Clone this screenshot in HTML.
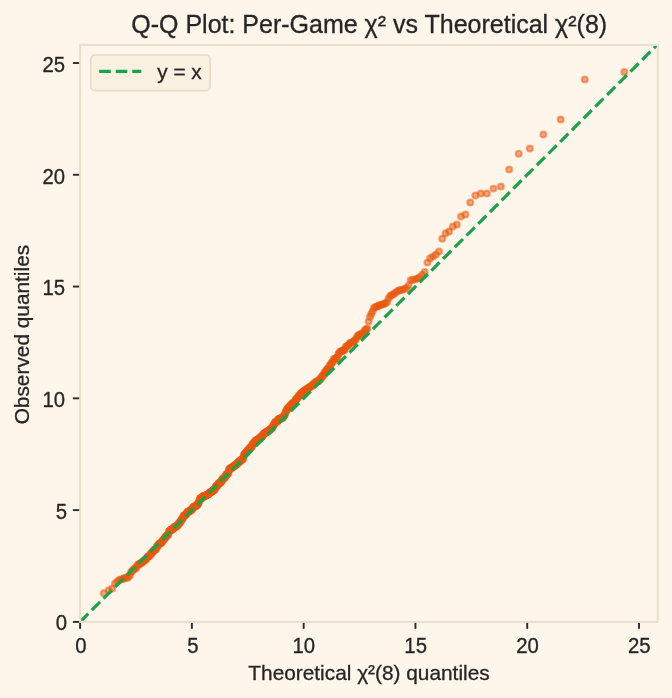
<!DOCTYPE html>
<html lang="en"><head><meta charset="utf-8"><title>Q-Q Plot</title>
<style>html,body{margin:0;padding:0;background:#fef6ea}body{width:672px;height:698px;overflow:hidden}svg{display:block}text{font-family:"Liberation Sans",sans-serif;fill:#262626;stroke:#262626;stroke-width:0.3px}</style></head><body>
<svg width="672" height="698" viewBox="0 0 672 698">
<rect width="672" height="698" fill="#fef6ea"/>
<defs><clipPath id="ax"><rect x="80.1" y="44.9" width="577.7" height="577"/></clipPath></defs>
<g clip-path="url(#ax)"><g fill="#ea580c" fill-opacity="0.5" stroke="#ea580c" stroke-opacity="0.5" stroke-width="2.08">
<circle cx="103.78" cy="593.31" r="2.95"/>
<circle cx="108.78" cy="590.35" r="2.95"/>
<circle cx="112.26" cy="588.61" r="2.95"/>
<circle cx="115.04" cy="583.37" r="2.95"/>
<circle cx="117.39" cy="581.45" r="2.95"/>
<circle cx="119.45" cy="579.65" r="2.95"/>
<circle cx="121.3" cy="579.48" r="2.95"/>
<circle cx="122.99" cy="579.02" r="2.95"/>
<circle cx="124.55" cy="577.83" r="2.95"/>
<circle cx="126.01" cy="577.76" r="2.95"/>
<circle cx="127.38" cy="577.66" r="2.95"/>
<circle cx="128.68" cy="576.86" r="2.95"/>
<circle cx="129.91" cy="575.21" r="2.95"/>
<circle cx="131.08" cy="572.05" r="2.95"/>
<circle cx="132.21" cy="571.25" r="2.95"/>
<circle cx="133.29" cy="569.84" r="2.95"/>
<circle cx="134.34" cy="569.04" r="2.95"/>
<circle cx="135.35" cy="568.1" r="2.95"/>
<circle cx="136.32" cy="567.96" r="2.95"/>
<circle cx="137.27" cy="565.6" r="2.95"/>
<circle cx="138.19" cy="564.78" r="2.95"/>
<circle cx="139.09" cy="564" r="2.95"/>
<circle cx="139.96" cy="563.98" r="2.95"/>
<circle cx="140.82" cy="563.27" r="2.95"/>
<circle cx="141.65" cy="562.59" r="2.95"/>
<circle cx="142.46" cy="561.92" r="2.95"/>
<circle cx="143.26" cy="561.57" r="2.95"/>
<circle cx="144.05" cy="560.75" r="2.95"/>
<circle cx="144.81" cy="559.82" r="2.95"/>
<circle cx="145.57" cy="559.44" r="2.95"/>
<circle cx="146.31" cy="559.24" r="2.95"/>
<circle cx="147.03" cy="557.56" r="2.95"/>
<circle cx="147.75" cy="556.9" r="2.95"/>
<circle cx="148.45" cy="556.18" r="2.95"/>
<circle cx="149.15" cy="556.08" r="2.95"/>
<circle cx="149.83" cy="555.85" r="2.95"/>
<circle cx="150.5" cy="553.97" r="2.95"/>
<circle cx="151.17" cy="553.31" r="2.95"/>
<circle cx="151.82" cy="553.28" r="2.95"/>
<circle cx="152.47" cy="552.11" r="2.95"/>
<circle cx="153.11" cy="551.85" r="2.95"/>
<circle cx="153.74" cy="550.3" r="2.95"/>
<circle cx="154.37" cy="549.87" r="2.95"/>
<circle cx="154.98" cy="549.37" r="2.95"/>
<circle cx="155.59" cy="549.15" r="2.95"/>
<circle cx="156.2" cy="549.14" r="2.95"/>
<circle cx="156.8" cy="546.46" r="2.95"/>
<circle cx="157.39" cy="546.23" r="2.95"/>
<circle cx="157.97" cy="545.23" r="2.95"/>
<circle cx="158.55" cy="545.14" r="2.95"/>
<circle cx="159.13" cy="543.58" r="2.95"/>
<circle cx="159.7" cy="543.58" r="2.95"/>
<circle cx="160.26" cy="543.1" r="2.95"/>
<circle cx="160.82" cy="543.05" r="2.95"/>
<circle cx="161.38" cy="542.95" r="2.95"/>
<circle cx="161.93" cy="542.08" r="2.95"/>
<circle cx="162.48" cy="540.65" r="2.95"/>
<circle cx="163.02" cy="540.29" r="2.95"/>
<circle cx="163.56" cy="539.51" r="2.95"/>
<circle cx="164.09" cy="538.94" r="2.95"/>
<circle cx="164.62" cy="538.69" r="2.95"/>
<circle cx="165.15" cy="537.52" r="2.95"/>
<circle cx="165.67" cy="536.57" r="2.95"/>
<circle cx="166.19" cy="536.39" r="2.95"/>
<circle cx="166.71" cy="536.02" r="2.95"/>
<circle cx="167.22" cy="535.44" r="2.95"/>
<circle cx="167.73" cy="534.86" r="2.95"/>
<circle cx="168.23" cy="534.81" r="2.95"/>
<circle cx="168.74" cy="531.73" r="2.95"/>
<circle cx="169.24" cy="531.73" r="2.95"/>
<circle cx="169.74" cy="530.92" r="2.95"/>
<circle cx="170.23" cy="530.18" r="2.95"/>
<circle cx="170.72" cy="530.02" r="2.95"/>
<circle cx="171.21" cy="529.63" r="2.95"/>
<circle cx="171.7" cy="529.42" r="2.95"/>
<circle cx="172.18" cy="529.42" r="2.95"/>
<circle cx="172.67" cy="529.16" r="2.95"/>
<circle cx="173.15" cy="528.79" r="2.95"/>
<circle cx="173.62" cy="528.44" r="2.95"/>
<circle cx="174.1" cy="527.06" r="2.95"/>
<circle cx="174.57" cy="527.01" r="2.95"/>
<circle cx="175.04" cy="526.95" r="2.95"/>
<circle cx="175.51" cy="526.78" r="2.95"/>
<circle cx="175.98" cy="526.71" r="2.95"/>
<circle cx="176.44" cy="526.54" r="2.95"/>
<circle cx="176.9" cy="525.7" r="2.95"/>
<circle cx="177.37" cy="525.3" r="2.95"/>
<circle cx="177.82" cy="525.12" r="2.95"/>
<circle cx="178.28" cy="524.89" r="2.95"/>
<circle cx="178.74" cy="523.15" r="2.95"/>
<circle cx="179.19" cy="522.99" r="2.95"/>
<circle cx="179.64" cy="522.66" r="2.95"/>
<circle cx="180.09" cy="522.11" r="2.95"/>
<circle cx="180.54" cy="521.74" r="2.95"/>
<circle cx="180.99" cy="520.83" r="2.95"/>
<circle cx="181.44" cy="519.59" r="2.95"/>
<circle cx="181.88" cy="519.41" r="2.95"/>
<circle cx="182.32" cy="518.96" r="2.95"/>
<circle cx="182.77" cy="517.94" r="2.95"/>
<circle cx="183.21" cy="517.44" r="2.95"/>
<circle cx="183.65" cy="515.81" r="2.95"/>
<circle cx="184.08" cy="515.73" r="2.95"/>
<circle cx="184.52" cy="515.33" r="2.95"/>
<circle cx="184.95" cy="515.23" r="2.95"/>
<circle cx="185.39" cy="514.92" r="2.95"/>
<circle cx="185.82" cy="514.78" r="2.95"/>
<circle cx="186.25" cy="513.73" r="2.95"/>
<circle cx="186.68" cy="513.47" r="2.95"/>
<circle cx="187.11" cy="512.7" r="2.95"/>
<circle cx="187.54" cy="512.22" r="2.95"/>
<circle cx="187.97" cy="511.89" r="2.95"/>
<circle cx="188.39" cy="511.54" r="2.95"/>
<circle cx="188.82" cy="511.31" r="2.95"/>
<circle cx="189.24" cy="511.18" r="2.95"/>
<circle cx="189.67" cy="511.08" r="2.95"/>
<circle cx="190.09" cy="511.04" r="2.95"/>
<circle cx="190.51" cy="510.15" r="2.95"/>
<circle cx="190.93" cy="509.91" r="2.95"/>
<circle cx="191.35" cy="509.79" r="2.95"/>
<circle cx="191.77" cy="509.28" r="2.95"/>
<circle cx="192.19" cy="509.07" r="2.95"/>
<circle cx="192.61" cy="508.62" r="2.95"/>
<circle cx="193.02" cy="507.39" r="2.95"/>
<circle cx="193.44" cy="507.28" r="2.95"/>
<circle cx="193.86" cy="506.84" r="2.95"/>
<circle cx="194.27" cy="506.79" r="2.95"/>
<circle cx="194.68" cy="506.59" r="2.95"/>
<circle cx="195.1" cy="506.27" r="2.95"/>
<circle cx="195.51" cy="506.14" r="2.95"/>
<circle cx="195.92" cy="506.13" r="2.95"/>
<circle cx="196.33" cy="505.97" r="2.95"/>
<circle cx="196.74" cy="505.14" r="2.95"/>
<circle cx="197.15" cy="504.52" r="2.95"/>
<circle cx="197.56" cy="504.26" r="2.95"/>
<circle cx="197.97" cy="504.16" r="2.95"/>
<circle cx="198.38" cy="503.12" r="2.95"/>
<circle cx="198.79" cy="502.48" r="2.95"/>
<circle cx="199.2" cy="500.62" r="2.95"/>
<circle cx="199.6" cy="500.4" r="2.95"/>
<circle cx="200.01" cy="498.38" r="2.95"/>
<circle cx="200.41" cy="498.33" r="2.95"/>
<circle cx="200.82" cy="498.29" r="2.95"/>
<circle cx="201.23" cy="498.27" r="2.95"/>
<circle cx="201.63" cy="498.22" r="2.95"/>
<circle cx="202.03" cy="497.81" r="2.95"/>
<circle cx="202.44" cy="497.75" r="2.95"/>
<circle cx="202.84" cy="496.33" r="2.95"/>
<circle cx="203.24" cy="496.3" r="2.95"/>
<circle cx="203.65" cy="496.21" r="2.95"/>
<circle cx="204.05" cy="496.18" r="2.95"/>
<circle cx="204.45" cy="496.04" r="2.95"/>
<circle cx="204.85" cy="496.03" r="2.95"/>
<circle cx="205.26" cy="495.94" r="2.95"/>
<circle cx="205.66" cy="495.46" r="2.95"/>
<circle cx="206.06" cy="495.27" r="2.95"/>
<circle cx="206.46" cy="495.21" r="2.95"/>
<circle cx="206.86" cy="494.94" r="2.95"/>
<circle cx="207.26" cy="494.73" r="2.95"/>
<circle cx="207.66" cy="494.67" r="2.95"/>
<circle cx="208.06" cy="494.14" r="2.95"/>
<circle cx="208.46" cy="494.12" r="2.95"/>
<circle cx="208.86" cy="493.62" r="2.95"/>
<circle cx="209.26" cy="493.01" r="2.95"/>
<circle cx="209.66" cy="492.71" r="2.95"/>
<circle cx="210.06" cy="492.6" r="2.95"/>
<circle cx="210.46" cy="491.99" r="2.95"/>
<circle cx="210.86" cy="491.97" r="2.95"/>
<circle cx="211.25" cy="491.89" r="2.95"/>
<circle cx="211.65" cy="491.66" r="2.95"/>
<circle cx="212.05" cy="491.49" r="2.95"/>
<circle cx="212.45" cy="491.35" r="2.95"/>
<circle cx="212.85" cy="490.48" r="2.95"/>
<circle cx="213.25" cy="490.35" r="2.95"/>
<circle cx="213.65" cy="490.31" r="2.95"/>
<circle cx="214.04" cy="490.2" r="2.95"/>
<circle cx="214.44" cy="489.31" r="2.95"/>
<circle cx="214.84" cy="489.22" r="2.95"/>
<circle cx="215.24" cy="488.33" r="2.95"/>
<circle cx="215.64" cy="486.65" r="2.95"/>
<circle cx="216.04" cy="486.15" r="2.95"/>
<circle cx="216.43" cy="486.1" r="2.95"/>
<circle cx="216.83" cy="485.93" r="2.95"/>
<circle cx="217.23" cy="485.67" r="2.95"/>
<circle cx="217.63" cy="485.24" r="2.95"/>
<circle cx="218.03" cy="484.94" r="2.95"/>
<circle cx="218.43" cy="483.82" r="2.95"/>
<circle cx="218.83" cy="483.26" r="2.95"/>
<circle cx="219.23" cy="483.11" r="2.95"/>
<circle cx="219.62" cy="483.09" r="2.95"/>
<circle cx="220.02" cy="482.93" r="2.95"/>
<circle cx="220.42" cy="482.77" r="2.95"/>
<circle cx="220.82" cy="481.89" r="2.95"/>
<circle cx="221.22" cy="481.67" r="2.95"/>
<circle cx="221.62" cy="480.53" r="2.95"/>
<circle cx="222.02" cy="480.1" r="2.95"/>
<circle cx="222.42" cy="479.55" r="2.95"/>
<circle cx="222.82" cy="478.8" r="2.95"/>
<circle cx="223.22" cy="478.79" r="2.95"/>
<circle cx="223.62" cy="478.36" r="2.95"/>
<circle cx="224.02" cy="478.29" r="2.95"/>
<circle cx="224.43" cy="477.87" r="2.95"/>
<circle cx="224.83" cy="477.12" r="2.95"/>
<circle cx="225.23" cy="476.63" r="2.95"/>
<circle cx="225.63" cy="476.34" r="2.95"/>
<circle cx="226.03" cy="475.1" r="2.95"/>
<circle cx="226.44" cy="474.59" r="2.95"/>
<circle cx="226.84" cy="474.38" r="2.95"/>
<circle cx="227.24" cy="473.98" r="2.95"/>
<circle cx="227.64" cy="473.43" r="2.95"/>
<circle cx="228.05" cy="473.35" r="2.95"/>
<circle cx="228.45" cy="472.52" r="2.95"/>
<circle cx="228.86" cy="470.05" r="2.95"/>
<circle cx="229.26" cy="469.63" r="2.95"/>
<circle cx="229.67" cy="469.6" r="2.95"/>
<circle cx="230.07" cy="468.36" r="2.95"/>
<circle cx="230.48" cy="468.16" r="2.95"/>
<circle cx="230.88" cy="468.09" r="2.95"/>
<circle cx="231.29" cy="467.97" r="2.95"/>
<circle cx="231.7" cy="467.95" r="2.95"/>
<circle cx="232.11" cy="467.54" r="2.95"/>
<circle cx="232.51" cy="467.21" r="2.95"/>
<circle cx="232.92" cy="467.09" r="2.95"/>
<circle cx="233.33" cy="466.5" r="2.95"/>
<circle cx="233.74" cy="466.16" r="2.95"/>
<circle cx="234.15" cy="466.01" r="2.95"/>
<circle cx="234.56" cy="465.71" r="2.95"/>
<circle cx="234.97" cy="465.14" r="2.95"/>
<circle cx="235.38" cy="465" r="2.95"/>
<circle cx="235.79" cy="464.75" r="2.95"/>
<circle cx="236.21" cy="464.7" r="2.95"/>
<circle cx="236.62" cy="464.61" r="2.95"/>
<circle cx="237.03" cy="463.45" r="2.95"/>
<circle cx="237.44" cy="463.22" r="2.95"/>
<circle cx="237.86" cy="463.04" r="2.95"/>
<circle cx="238.27" cy="462.36" r="2.95"/>
<circle cx="238.69" cy="462.33" r="2.95"/>
<circle cx="239.11" cy="461.83" r="2.95"/>
<circle cx="239.52" cy="461.22" r="2.95"/>
<circle cx="239.94" cy="461.15" r="2.95"/>
<circle cx="240.36" cy="460.8" r="2.95"/>
<circle cx="240.78" cy="460.32" r="2.95"/>
<circle cx="241.2" cy="459.78" r="2.95"/>
<circle cx="241.61" cy="459.52" r="2.95"/>
<circle cx="242.04" cy="459.5" r="2.95"/>
<circle cx="242.46" cy="459.47" r="2.95"/>
<circle cx="242.88" cy="458.62" r="2.95"/>
<circle cx="243.3" cy="458.2" r="2.95"/>
<circle cx="243.72" cy="455.56" r="2.95"/>
<circle cx="244.15" cy="455.01" r="2.95"/>
<circle cx="244.57" cy="453.99" r="2.95"/>
<circle cx="245" cy="453.97" r="2.95"/>
<circle cx="245.42" cy="453.2" r="2.95"/>
<circle cx="245.85" cy="452.95" r="2.95"/>
<circle cx="246.28" cy="452.52" r="2.95"/>
<circle cx="246.71" cy="452.44" r="2.95"/>
<circle cx="247.14" cy="450.94" r="2.95"/>
<circle cx="247.57" cy="450.56" r="2.95"/>
<circle cx="248" cy="450.25" r="2.95"/>
<circle cx="248.43" cy="449.94" r="2.95"/>
<circle cx="248.86" cy="449.93" r="2.95"/>
<circle cx="249.29" cy="448.51" r="2.95"/>
<circle cx="249.73" cy="448.21" r="2.95"/>
<circle cx="250.16" cy="448.02" r="2.95"/>
<circle cx="250.6" cy="447.84" r="2.95"/>
<circle cx="251.04" cy="446.98" r="2.95"/>
<circle cx="251.47" cy="446.68" r="2.95"/>
<circle cx="251.91" cy="446.53" r="2.95"/>
<circle cx="252.35" cy="444.51" r="2.95"/>
<circle cx="252.79" cy="444.16" r="2.95"/>
<circle cx="253.23" cy="444.04" r="2.95"/>
<circle cx="253.68" cy="443.27" r="2.95"/>
<circle cx="254.12" cy="442.44" r="2.95"/>
<circle cx="254.57" cy="442.15" r="2.95"/>
<circle cx="255.01" cy="441.99" r="2.95"/>
<circle cx="255.46" cy="440.81" r="2.95"/>
<circle cx="255.91" cy="440.74" r="2.95"/>
<circle cx="256.35" cy="440.63" r="2.95"/>
<circle cx="256.8" cy="439.91" r="2.95"/>
<circle cx="257.25" cy="439.81" r="2.95"/>
<circle cx="257.71" cy="439.73" r="2.95"/>
<circle cx="258.16" cy="439.21" r="2.95"/>
<circle cx="258.61" cy="439.03" r="2.95"/>
<circle cx="259.07" cy="438.8" r="2.95"/>
<circle cx="259.53" cy="438.56" r="2.95"/>
<circle cx="259.98" cy="437.71" r="2.95"/>
<circle cx="260.44" cy="437.65" r="2.95"/>
<circle cx="260.9" cy="436.72" r="2.95"/>
<circle cx="261.36" cy="436.59" r="2.95"/>
<circle cx="261.82" cy="436.42" r="2.95"/>
<circle cx="262.29" cy="436.4" r="2.95"/>
<circle cx="262.75" cy="435.42" r="2.95"/>
<circle cx="263.22" cy="434.52" r="2.95"/>
<circle cx="263.69" cy="433.68" r="2.95"/>
<circle cx="264.16" cy="433.56" r="2.95"/>
<circle cx="264.63" cy="433.49" r="2.95"/>
<circle cx="265.1" cy="432.84" r="2.95"/>
<circle cx="265.57" cy="432.65" r="2.95"/>
<circle cx="266.04" cy="432.04" r="2.95"/>
<circle cx="266.52" cy="431.86" r="2.95"/>
<circle cx="267" cy="431.66" r="2.95"/>
<circle cx="267.48" cy="431.65" r="2.95"/>
<circle cx="267.96" cy="430.88" r="2.95"/>
<circle cx="268.44" cy="430.7" r="2.95"/>
<circle cx="268.92" cy="430.65" r="2.95"/>
<circle cx="269.4" cy="430.06" r="2.95"/>
<circle cx="269.89" cy="429.73" r="2.95"/>
<circle cx="270.38" cy="429.53" r="2.95"/>
<circle cx="270.87" cy="428.6" r="2.95"/>
<circle cx="271.36" cy="428.4" r="2.95"/>
<circle cx="271.85" cy="427.93" r="2.95"/>
<circle cx="272.34" cy="427.76" r="2.95"/>
<circle cx="272.84" cy="426.97" r="2.95"/>
<circle cx="273.34" cy="425.37" r="2.95"/>
<circle cx="273.83" cy="424.5" r="2.95"/>
<circle cx="274.34" cy="424.19" r="2.95"/>
<circle cx="274.84" cy="422.72" r="2.95"/>
<circle cx="275.34" cy="422.1" r="2.95"/>
<circle cx="275.85" cy="421.98" r="2.95"/>
<circle cx="276.35" cy="421.84" r="2.95"/>
<circle cx="276.86" cy="421.8" r="2.95"/>
<circle cx="277.38" cy="421.42" r="2.95"/>
<circle cx="277.89" cy="419.75" r="2.95"/>
<circle cx="278.4" cy="419.35" r="2.95"/>
<circle cx="278.92" cy="419.34" r="2.95"/>
<circle cx="279.44" cy="419.14" r="2.95"/>
<circle cx="279.96" cy="418.59" r="2.95"/>
<circle cx="280.48" cy="418.44" r="2.95"/>
<circle cx="281.01" cy="418.43" r="2.95"/>
<circle cx="281.53" cy="418.2" r="2.95"/>
<circle cx="282.06" cy="417.96" r="2.95"/>
<circle cx="282.59" cy="417.83" r="2.95"/>
<circle cx="283.13" cy="417.6" r="2.95"/>
<circle cx="283.66" cy="416.08" r="2.95"/>
<circle cx="284.2" cy="415.19" r="2.95"/>
<circle cx="284.74" cy="414.73" r="2.95"/>
<circle cx="285.28" cy="413.24" r="2.95"/>
<circle cx="285.83" cy="411.6" r="2.95"/>
<circle cx="286.37" cy="410.74" r="2.95"/>
<circle cx="286.92" cy="409.34" r="2.95"/>
<circle cx="287.47" cy="408.79" r="2.95"/>
<circle cx="288.03" cy="408.46" r="2.95"/>
<circle cx="288.58" cy="407.43" r="2.95"/>
<circle cx="289.14" cy="407.33" r="2.95"/>
<circle cx="289.7" cy="406.26" r="2.95"/>
<circle cx="290.27" cy="406.08" r="2.95"/>
<circle cx="290.83" cy="405.14" r="2.95"/>
<circle cx="291.4" cy="404.61" r="2.95"/>
<circle cx="291.97" cy="404.3" r="2.95"/>
<circle cx="292.55" cy="403.24" r="2.95"/>
<circle cx="293.12" cy="402.89" r="2.95"/>
<circle cx="293.7" cy="402.52" r="2.95"/>
<circle cx="294.29" cy="402.42" r="2.95"/>
<circle cx="294.87" cy="401.88" r="2.95"/>
<circle cx="295.46" cy="400.42" r="2.95"/>
<circle cx="296.05" cy="399.09" r="2.95"/>
<circle cx="296.64" cy="399.04" r="2.95"/>
<circle cx="297.24" cy="398.23" r="2.95"/>
<circle cx="297.84" cy="397.6" r="2.95"/>
<circle cx="298.44" cy="396.71" r="2.95"/>
<circle cx="299.05" cy="395.59" r="2.95"/>
<circle cx="299.66" cy="395.08" r="2.95"/>
<circle cx="300.27" cy="394.67" r="2.95"/>
<circle cx="300.89" cy="393.76" r="2.95"/>
<circle cx="301.51" cy="393.1" r="2.95"/>
<circle cx="302.13" cy="392.83" r="2.95"/>
<circle cx="302.76" cy="391.97" r="2.95"/>
<circle cx="303.39" cy="391.69" r="2.95"/>
<circle cx="304.02" cy="390.86" r="2.95"/>
<circle cx="304.66" cy="390.42" r="2.95"/>
<circle cx="305.3" cy="390.17" r="2.95"/>
<circle cx="305.94" cy="389.87" r="2.95"/>
<circle cx="306.59" cy="389.87" r="2.95"/>
<circle cx="307.24" cy="388.49" r="2.95"/>
<circle cx="307.9" cy="388.18" r="2.95"/>
<circle cx="308.56" cy="387.98" r="2.95"/>
<circle cx="309.22" cy="387.65" r="2.95"/>
<circle cx="309.89" cy="386.98" r="2.95"/>
<circle cx="310.56" cy="386.58" r="2.95"/>
<circle cx="311.23" cy="386.37" r="2.95"/>
<circle cx="311.92" cy="385.78" r="2.95"/>
<circle cx="312.6" cy="385.28" r="2.95"/>
<circle cx="313.29" cy="384" r="2.95"/>
<circle cx="313.98" cy="383.94" r="2.95"/>
<circle cx="314.68" cy="383.23" r="2.95"/>
<circle cx="315.38" cy="382.6" r="2.95"/>
<circle cx="316.09" cy="381.67" r="2.95"/>
<circle cx="316.81" cy="381.62" r="2.95"/>
<circle cx="317.52" cy="381.36" r="2.95"/>
<circle cx="318.25" cy="381.24" r="2.95"/>
<circle cx="318.97" cy="380.86" r="2.95"/>
<circle cx="319.71" cy="379.26" r="2.95"/>
<circle cx="320.45" cy="379.1" r="2.95"/>
<circle cx="321.19" cy="378.25" r="2.95"/>
<circle cx="321.94" cy="376.61" r="2.95"/>
<circle cx="322.69" cy="375.91" r="2.95"/>
<circle cx="323.45" cy="375.26" r="2.95"/>
<circle cx="324.22" cy="373.34" r="2.95"/>
<circle cx="324.99" cy="372.07" r="2.95"/>
<circle cx="325.77" cy="371.55" r="2.95"/>
<circle cx="326.56" cy="370.11" r="2.95"/>
<circle cx="327.35" cy="369.33" r="2.95"/>
<circle cx="328.14" cy="368.73" r="2.95"/>
<circle cx="328.95" cy="367.45" r="2.95"/>
<circle cx="329.76" cy="365.52" r="2.95"/>
<circle cx="330.58" cy="364.88" r="2.95"/>
<circle cx="331.4" cy="363.35" r="2.95"/>
<circle cx="332.23" cy="362.33" r="2.95"/>
<circle cx="333.07" cy="361.49" r="2.95"/>
<circle cx="333.92" cy="359.07" r="2.95"/>
<circle cx="334.77" cy="358.92" r="2.95"/>
<circle cx="335.63" cy="358.84" r="2.95"/>
<circle cx="336.5" cy="358.02" r="2.95"/>
<circle cx="337.38" cy="357.44" r="2.95"/>
<circle cx="338.27" cy="354.09" r="2.95"/>
<circle cx="339.16" cy="353.4" r="2.95"/>
<circle cx="340.07" cy="351.83" r="2.95"/>
<circle cx="340.98" cy="351.36" r="2.95"/>
<circle cx="341.9" cy="351.32" r="2.95"/>
<circle cx="342.83" cy="350.43" r="2.95"/>
<circle cx="343.77" cy="350.22" r="2.95"/>
<circle cx="344.72" cy="349.77" r="2.95"/>
<circle cx="345.68" cy="346.93" r="2.95"/>
<circle cx="346.65" cy="346.41" r="2.95"/>
<circle cx="347.63" cy="345.86" r="2.95"/>
<circle cx="348.63" cy="345.36" r="2.95"/>
<circle cx="349.63" cy="343.2" r="2.95"/>
<circle cx="350.64" cy="343.07" r="2.95"/>
<circle cx="351.67" cy="342.42" r="2.95"/>
<circle cx="352.71" cy="342.12" r="2.95"/>
<circle cx="353.76" cy="341.61" r="2.95"/>
<circle cx="354.82" cy="340.27" r="2.95"/>
<circle cx="355.9" cy="339.58" r="2.95"/>
<circle cx="356.99" cy="337.07" r="2.95"/>
<circle cx="358.09" cy="335.55" r="2.95"/>
<circle cx="359.21" cy="334.98" r="2.95"/>
<circle cx="360.34" cy="334.25" r="2.95"/>
<circle cx="361.49" cy="333.95" r="2.95"/>
<circle cx="362.65" cy="333.41" r="2.95"/>
<circle cx="363.83" cy="332.36" r="2.95"/>
<circle cx="365.03" cy="329.91" r="2.95"/>
<circle cx="366.24" cy="329.24" r="2.95"/>
<circle cx="367.47" cy="328.57" r="2.95"/>
<circle cx="368.72" cy="321.41" r="2.95"/>
<circle cx="369.99" cy="316.72" r="2.95"/>
<circle cx="371.28" cy="314.03" r="2.95"/>
<circle cx="372.58" cy="311.13" r="2.95"/>
<circle cx="373.91" cy="308" r="2.95"/>
<circle cx="375.26" cy="307.1" r="2.95"/>
<circle cx="376.64" cy="306.66" r="2.95"/>
<circle cx="378.03" cy="305.99" r="2.95"/>
<circle cx="379.45" cy="305.32" r="2.95"/>
<circle cx="380.9" cy="304.87" r="2.95"/>
<circle cx="382.37" cy="304.42" r="2.95"/>
<circle cx="383.87" cy="303.97" r="2.95"/>
<circle cx="385.4" cy="303.3" r="2.95"/>
<circle cx="386.96" cy="302.19" r="2.95"/>
<circle cx="388.55" cy="298.61" r="2.95"/>
<circle cx="390.17" cy="295.93" r="2.95"/>
<circle cx="391.83" cy="295.03" r="2.95"/>
<circle cx="393.52" cy="294.14" r="2.95"/>
<circle cx="395.25" cy="292.8" r="2.95"/>
<circle cx="397.02" cy="291.45" r="2.95"/>
<circle cx="398.83" cy="290.56" r="2.95"/>
<circle cx="400.69" cy="289.89" r="2.95"/>
<circle cx="402.58" cy="289.67" r="2.95"/>
<circle cx="404.53" cy="289" r="2.95"/>
<circle cx="406.53" cy="287.88" r="2.95"/>
<circle cx="408.58" cy="285.42" r="2.95"/>
<circle cx="410.69" cy="280.28" r="2.95"/>
<circle cx="412.86" cy="279.83" r="2.95"/>
<circle cx="415.1" cy="279.38" r="2.95"/>
<circle cx="417.4" cy="278.49" r="2.95"/>
<circle cx="419.78" cy="277.15" r="2.95"/>
<circle cx="422.24" cy="274.69" r="2.95"/>
<circle cx="424.78" cy="272.01" r="2.95"/>
<circle cx="427.42" cy="262.62" r="2.95"/>
<circle cx="430.15" cy="258.14" r="2.95"/>
<circle cx="432.99" cy="256.58" r="2.95"/>
<circle cx="435.94" cy="254.57" r="2.95"/>
<circle cx="439.02" cy="251.44" r="2.95"/>
<circle cx="442.25" cy="238.69" r="2.95"/>
<circle cx="445.62" cy="233.33" r="2.95"/>
<circle cx="449.16" cy="231.54" r="2.95"/>
<circle cx="452.89" cy="226.4" r="2.95"/>
<circle cx="456.84" cy="224.61" r="2.95"/>
<circle cx="461.02" cy="216.56" r="2.95"/>
<circle cx="465.46" cy="214.55" r="2.95"/>
<circle cx="470.22" cy="202.48" r="2.95"/>
<circle cx="475.34" cy="195.55" r="2.95"/>
<circle cx="480.87" cy="193.54" r="2.95"/>
<circle cx="486.9" cy="193.54" r="2.95"/>
<circle cx="493.52" cy="188.62" r="2.95"/>
<circle cx="500.89" cy="186.61" r="2.95"/>
<circle cx="509.18" cy="169.61" r="2.95"/>
<circle cx="518.7" cy="153.74" r="2.95"/>
<circle cx="529.86" cy="148.6" r="2.95"/>
<circle cx="543.4" cy="134.52" r="2.95"/>
<circle cx="560.69" cy="119.54" r="2.95"/>
<circle cx="584.74" cy="79.52" r="2.95"/>
<circle cx="624.33" cy="71.92" r="2.95"/>
</g>
<line x1="80.1" y1="621.9" x2="657.8" y2="44.2" stroke="#16a34a" stroke-width="3.125" stroke-dasharray="11.56 5"/>
</g>
<rect x="80.1" y="44.9" width="577.7" height="577" fill="none" stroke="#e9dfcb" stroke-width="2.08"/>
<g stroke="#2a2a2a" stroke-width="1.9">
<line x1="80.1" y1="622.9" x2="80.1" y2="628.8"/>
<line x1="72.9" y1="621.9" x2="79.1" y2="621.9"/>
<line x1="191.88" y1="622.9" x2="191.88" y2="628.8"/>
<line x1="72.9" y1="510.12" x2="79.1" y2="510.12"/>
<line x1="303.66" y1="622.9" x2="303.66" y2="628.8"/>
<line x1="72.9" y1="398.34" x2="79.1" y2="398.34"/>
<line x1="415.44" y1="622.9" x2="415.44" y2="628.8"/>
<line x1="72.9" y1="286.56" x2="79.1" y2="286.56"/>
<line x1="527.22" y1="622.9" x2="527.22" y2="628.8"/>
<line x1="72.9" y1="174.78" x2="79.1" y2="174.78"/>
<line x1="639" y1="622.9" x2="639" y2="628.8"/>
<line x1="72.9" y1="63" x2="79.1" y2="63"/>
</g>
<g font-size="20.83px">
<text transform="translate(81 653) scale(0.975 1.02)" text-anchor="middle">0</text>
<text transform="translate(192.78 653) scale(0.975 1.02)" text-anchor="middle">5</text>
<text transform="translate(303.86 653) scale(0.975 1.02)" text-anchor="middle">10</text>
<text transform="translate(415.64 653) scale(0.975 1.02)" text-anchor="middle">15</text>
<text transform="translate(527.42 653) scale(0.975 1.02)" text-anchor="middle">20</text>
<text transform="translate(639.2 653) scale(0.975 1.02)" text-anchor="middle">25</text>
<text transform="translate(67 630) scale(0.975 1.02)" text-anchor="end">0</text>
<text transform="translate(67 519) scale(0.975 1.02)" text-anchor="end">5</text>
<text transform="translate(65.1 407) scale(0.975 1.02)" text-anchor="end">10</text>
<text transform="translate(65.1 295) scale(0.975 1.02)" text-anchor="end">15</text>
<text transform="translate(65.1 184) scale(0.975 1.02)" text-anchor="end">20</text>
<text transform="translate(65.1 72) scale(0.975 1.02)" text-anchor="end">25</text>
<text x="369" y="680" text-anchor="middle">Theoretical χ²(8) quantiles</text>
<text transform="translate(28.8 334.6) rotate(-90)" text-anchor="middle">Observed quantiles</text>
</g>
<text x="369.2" y="32.5" text-anchor="middle" font-size="25px">Q-Q Plot: Per-Game χ² vs Theoretical χ²(8)</text>
<rect x="90.8" y="55.0" width="119.3" height="35.6" rx="4.2" ry="4.2" fill="#faf0e0" fill-opacity="0.8" stroke="#e7dbc6" stroke-width="1.67"/>
<line x1="99.2" y1="71.4" x2="141.3" y2="71.4" stroke="#16a34a" stroke-width="3.125" stroke-dasharray="11.56 5"/>
<text x="157.2" y="79.2" font-size="20.83px">y = x</text>
</svg></body></html>
